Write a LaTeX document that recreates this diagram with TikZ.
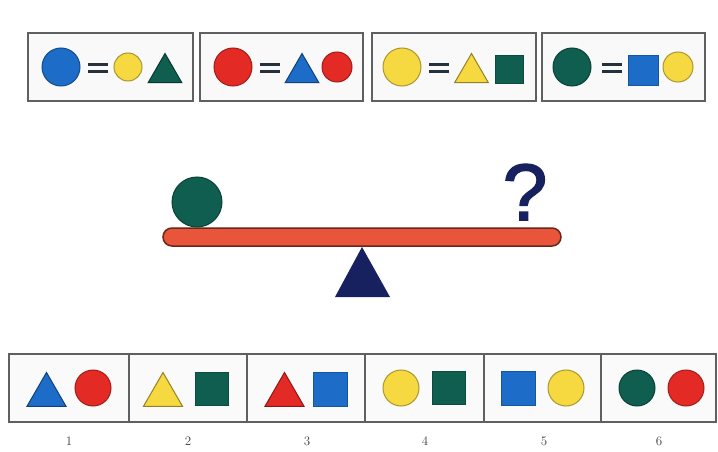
\documentclass[tikz,border=0pt]{standalone}
\usepackage{xcolor}
\usepackage{tikz}
\usepackage{fontspec}
\usetikzlibrary{shapes.geometric, positioning}
\newfontfamily\qfont[FakeBold=2]{Liberation Sans}
\definecolor{shblue}{HTML}{1C6CC8}
\definecolor{shred}{HTML}{E42A24}
\definecolor{shyellow}{HTML}{F6D840}
\definecolor{shgreen}{HTML}{0F5E50}
\definecolor{shnavy}{HTML}{18215F}
\definecolor{beamred}{HTML}{E9553B}
\definecolor{framegray}{HTML}{5E6062}
\definecolor{eqgray}{HTML}{26313E}

\begin{document}
\begin{tikzpicture}[
    x=1pt, y=-1pt,
    frame/.style={draw=framegray, line width=1.6pt, fill=gray!5},
    disc/.style={circle, draw=#1!70!black, fill=#1, line width=1pt, inner sep=0pt},
    tri/.style={regular polygon, regular polygon sides=3, draw=#1!60!black, fill=#1, line width=1pt, inner sep=0pt, minimum size=39pt},
    sq/.style={rectangle, draw=#1!80!black, fill=#1, line width=0.6pt, inner sep=0pt},
    eqbar/.style={draw=eqgray, line width=3pt},
    num/.style={font=\fontsize{13}{13}\selectfont, text=black!75}
]
\useasboundingbox (0,0) rectangle (718,452);
\fill[white] (0,0) rectangle (718,452);

% Rule boxes
\draw[frame] (28,33) rectangle (193,101);
\draw[frame] (200,33) rectangle (363,101);
\draw[frame] (372,33) rectangle (536,101);
\draw[frame] (542,33) rectangle (705,101);

\foreach \x in {98, 270, 439, 612} {
    \draw[eqbar] (\x-10,64.5) -- (\x+10,64.5);
    \draw[eqbar] (\x-10,72) -- (\x+10,72);
}

% blue = yellow + green triangle
\node[disc=shblue, minimum size=38pt] (bluebig) at (61,67) {};
\node[disc=shyellow, minimum size=28pt] (bluey) at (128,67) {};
\node[tri=shgreen] (bluet) at (165,73) {};

% red = blue triangle + red
\node[disc=shred, minimum size=38pt] (redbig) at (233,67) {};
\node[tri=shblue] (redt) at (302,73) {};
\node[disc=shred, minimum size=30pt] (redr) at (337,67) {};

% yellow = yellow triangle + green square
\node[disc=shyellow, minimum size=38pt] (yellowbig) at (402,67) {};
\node[tri=shyellow] (yellowt) at (471.5,73) {};
\node[sq=shgreen, minimum size=28pt] (yellows) at (509,69) {};

% green = blue square + yellow
\node[disc=shgreen, minimum size=38pt] (greenbig) at (572,67) {};
\node[sq=shblue, minimum size=30pt] (greens) at (643,70) {};
\node[disc=shyellow, minimum size=30pt] (greeny) at (678,67) {};

% Balance
\fill[shnavy] (362,247) -- (390,297) -- (335,297) -- cycle;
\draw[fill=beamred, draw=beamred!45!black, line width=1.5pt, rounded corners=9pt] (163,228) rectangle (561,246);
\node[disc=shgreen, minimum size=50pt] (ball) at (197,202) {};
\node[anchor=base, text=shnavy, inner sep=0pt, font=\qfont\fontsize{80}{80}\selectfont] (ask) at (525,220) {?};

% Answer row
\draw[frame, fill=gray!4] (9,354) rectangle (716,422);
\foreach \x in {129, 247, 365, 484, 601}
    \draw[draw=framegray, line width=1.2pt] (\x,354) -- (\x,422);

\node[tri=shblue, minimum size=45pt] (a1t) at (46.5,395) {};
\node[disc=shred, minimum size=36pt] (a1c) at (93,388) {};
\node[tri=shyellow, minimum size=45pt] (a2t) at (163,395) {};
\node[sq=shgreen, minimum size=33pt] (a2s) at (211.5,389) {};
\node[tri=shred, minimum size=45pt] (a3t) at (284.5,395) {};
\node[sq=shblue, minimum size=34pt] (a3s) at (330,389) {};
\node[disc=shyellow, minimum size=36pt] (a4c) at (401,388) {};
\node[sq=shgreen, minimum size=33pt] (a4s) at (448.5,387.5) {};
\node[sq=shblue, minimum size=34pt] (a5s) at (518.5,388.5) {};
\node[disc=shyellow, minimum size=36pt] (a5c) at (566,388) {};
\node[disc=shgreen, minimum size=36pt] (a6g) at (637,388) {};
\node[disc=shred, minimum size=36pt] (a6r) at (686,388) {};

\foreach \n/\x in {1/69, 2/188, 3/307, 4/425, 5/544, 6/659}
    \node[num] (lab\n) at (\x,441) {\n};

\end{tikzpicture}
\end{document}
